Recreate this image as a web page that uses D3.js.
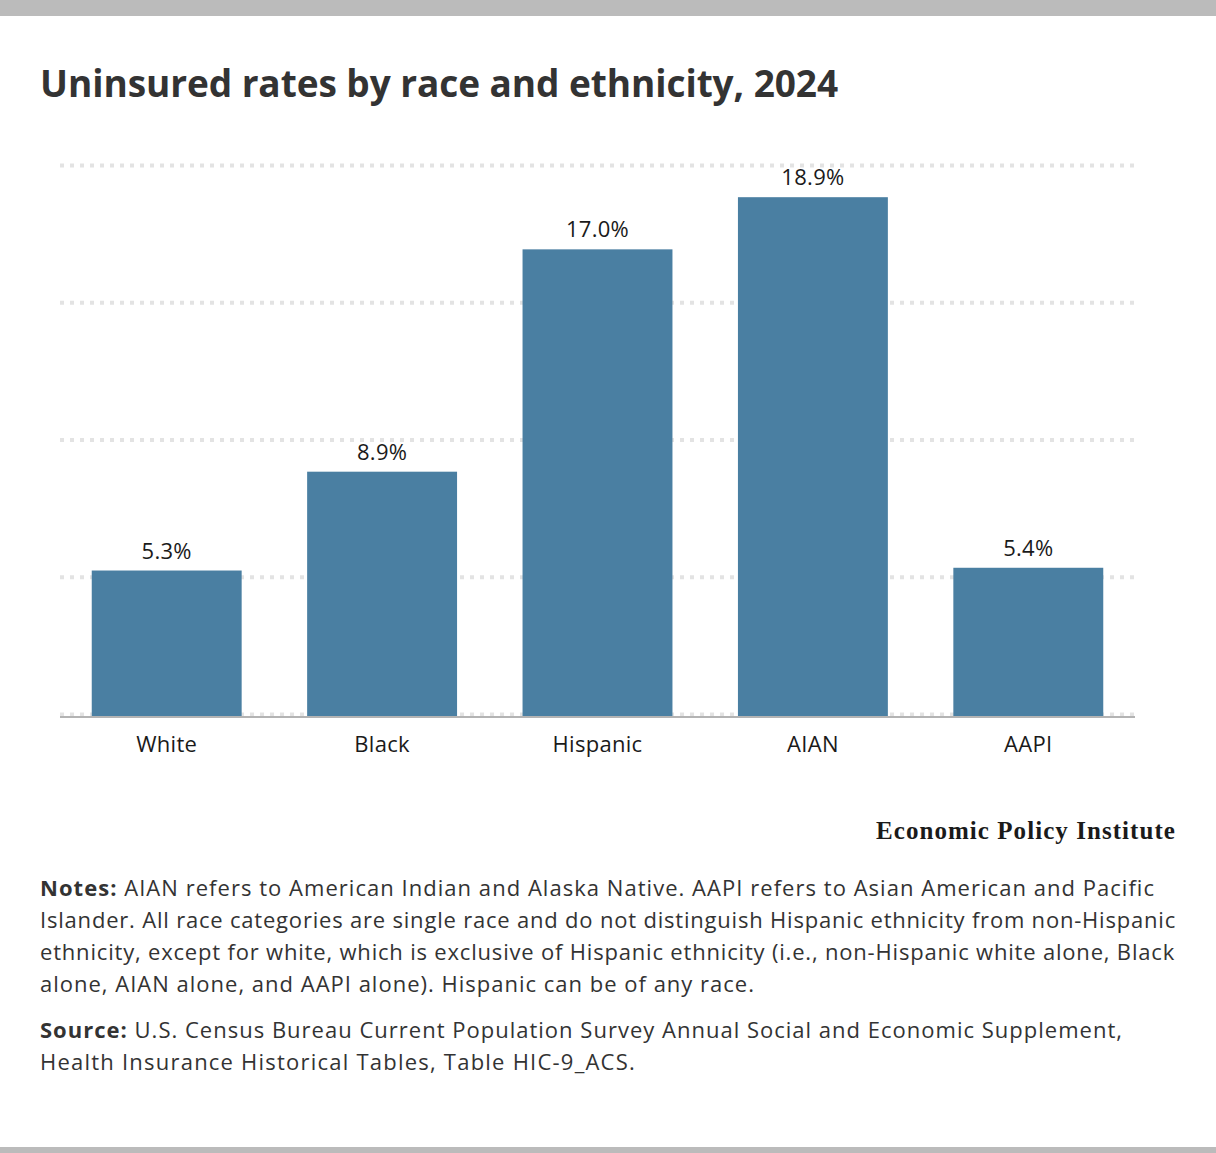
<!DOCTYPE html>
<html>
<head>
<meta charset="utf-8">
<script src="https://cdn.jsdelivr.net/npm/d3@7"></script>
<style>
  html, body { margin: 0; padding: 0; background: #fff; }
  svg { display: block; }
</style>
</head>
<body>
<script>
const categories = ["White", "Black", "Hispanic", "AIAN", "AAPI"];
const values = [5.3, 8.9, 17.0, 18.9, 5.4];
const yTicks = [0, 5, 10, 15, 20];
const titleText = "Uninsured rates by race and ethnicity, 2024";
const brandText = "Economic Policy Institute";
const notesLines = [
  [["Notes: ", true], ["AIAN refers to American Indian and Alaska Native. AAPI refers to Asian American and Pacific", false]],
  [["Islander. All race categories are single race and do not distinguish Hispanic ethnicity from non-Hispanic", false]],
  [["ethnicity, except for white, which is exclusive of Hispanic ethnicity (i.e., non-Hispanic white alone, Black", false]],
  [["alone, AIAN alone, and AAPI alone). Hispanic can be of any race.", false]]
];
const sourceLines = [
  [["Source: ", true], ["U.S. Census Bureau Current Population Survey Annual Social and Economic Supplement,", false]],
  [["Health Insurance Historical Tables, Table HIC-9_ACS.", false]]
];
const notesWidths = [1115, 1136, 1135, 715];
const sourceWidths = [1083, 596];

const W = 1216, H = 1153;
const sans = "'Open Sans', Lato, sans-serif";
const svg = d3.select("body").append("svg").attr("width", W).attr("height", H);

function fitSpacing(sel, target) {
  const node = sel.node();
  const n = node.getNumberOfChars();
  const w = node.getComputedTextLength();
  if (n > 1) sel.attr("letter-spacing", ((target - w) / n).toFixed(3));
}

svg.append("rect").attr("x", 0).attr("y", 0).attr("width", W).attr("height", 16).attr("fill", "#bbbbbb");
svg.append("rect").attr("x", 0).attr("y", 1147).attr("width", W).attr("height", 6).attr("fill", "#bbbbbb");

const title = svg.append("text").attr("x", 40).attr("y", 97)
  .attr("font-family", sans).attr("font-weight", 700).attr("font-size", 37)
  .attr("fill", "#333").text(titleText);
fitSpacing(title, 798);

const x = d3.scaleBand().domain(categories).range([59, 1136]).paddingInner(0.304).paddingOuter(0.152);
const y = d3.scaleLinear().domain([0, 20]).range([716, 167]);

// gridlines
svg.append("g").selectAll("line").data(yTicks).join("line")
  .attr("x1", 60).attr("x2", 1135)
  .attr("y1", d => y(d) - 1.5).attr("y2", d => y(d) - 1.5)
  .attr("stroke", "#e3e3e3").attr("stroke-width", 4).attr("stroke-dasharray", "4,6");

// bars
svg.append("g").selectAll("rect").data(values).join("rect")
  .attr("x", (d, i) => x(categories[i])).attr("width", x.bandwidth())
  .attr("y", d => y(d)).attr("height", d => y(0) - y(d))
  .attr("fill", "#4a7fa2");

// baseline
svg.append("line").attr("x1", 60).attr("x2", 1135).attr("y1", y(0) + 1).attr("y2", y(0) + 1)
  .attr("stroke", "#b3b3b3").attr("stroke-width", 2);

// value labels
svg.append("g").selectAll("text").data(values).join("text")
  .attr("x", (d, i) => x(categories[i]) + x.bandwidth() / 2)
  .attr("y", d => y(d) - 12)
  .attr("text-anchor", "middle").attr("font-family", sans).attr("font-size", 22).attr("fill", "#1a1a1a")
  .attr("letter-spacing", 0.3)
  .text(d => d.toFixed(1) + "%");

// x axis labels
const xAxis = d3.axisBottom(x).tickSize(0).tickPadding(0);
const gx = svg.append("g").attr("transform", "translate(0,736)").call(xAxis);
gx.select(".domain").remove();
gx.selectAll("text").attr("font-family", sans).attr("font-size", 22).attr("fill", "#1a1a1a")
  .attr("letter-spacing", 0.3).attr("dy", "0.71em");

// brand
const brand = svg.append("text").attr("x", 876).attr("y", 839)
  .attr("font-family", "'Liberation Serif', serif").attr("font-weight", 700).attr("font-size", 25)
  .attr("fill", "#1a1a1a").text(brandText);
fitSpacing(brand, 300);

function block(lines, widths, y0) {
  lines.forEach((line, i) => {
    const t = svg.append("text").attr("font-family", sans).attr("font-size", 22).attr("fill", "#333")
      .attr("x", 40).attr("y", y0 + i * 32);
    line.forEach(seg => {
      t.append("tspan").text(seg[0]).attr("font-weight", seg[1] ? 700 : 400);
    });
    fitSpacing(t, widths[i]);
  });
}
block(notesLines, notesWidths, 896);
block(sourceLines, sourceWidths, 1038);
</script>
</body>
</html>
